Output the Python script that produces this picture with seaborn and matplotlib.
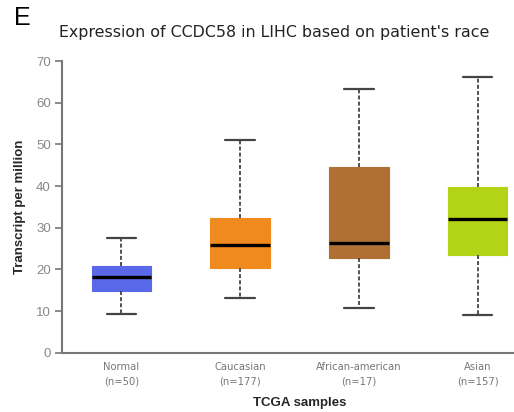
import numpy as np
import pandas as pd
import matplotlib
matplotlib.use("Agg")
import matplotlib.pyplot as plt
import seaborn as sns

# Five-number summaries: [min, Q1, median, Q3, max]
categories = ["Normal", "Caucasian", "African-american", "Asian"]
counts = [50, 177, 17, 157]
normal_vals = [9.3, 14.9, 18.1, 20.9, 27.6]
caucasian_vals = [13.2, 20.4, 25.9, 32.4, 51.0]
african_vals = [10.7, 22.7, 26.4, 44.6, 63.3]
asian_vals = [9.1, 23.4, 32.1, 39.8, 66.2]
colors = ["#5868E6", "#F08A1E", "#AF6F35", "#B3D416"]
yticks = [0, 10, 20, 30, 40, 50, 60, 70]

tick_labels = [f"{c}\n(n={n})" for c, n in zip(categories, counts)]

df = pd.DataFrame({
    "group": np.repeat(tick_labels, 5),
    "tpm": normal_vals + caucasian_vals + african_vals + asian_vals,
})

sns.set_style("white")
fig = plt.figure(figsize=(5.14, 4.12), dpi=100)
# axes extends past the right edge of the figure (the reference is cropped)
ax = fig.add_axes([62 / 514, 59.3 / 412, (537 - 62) / 514, 291.7 / 412])

sns.boxplot(
    data=df, x="group", y="tpm", hue="group", order=tick_labels,
    palette=colors, saturation=1, width=0.5, whis=np.inf, legend=False,
    linewidth=1.3, ax=ax,
    whiskerprops=dict(color="#444444", linestyle=(0, (2.2, 1.2)), linewidth=1.3),
    capprops=dict(color="#444444", linewidth=1.6),
    medianprops=dict(color="black", linewidth=2.4),
)

for patch, col in zip(ax.patches, colors):
    patch.set_edgecolor(col)
    patch.set_linewidth(0.8)

ax.set_xlim(-0.5, 3.5)
ax.set_ylim(0, 70)
ax.set_yticks(yticks)
ax.tick_params(axis="y", direction="out", length=5, width=1.2, color="#777777",
               labelcolor="#888888", labelsize=9.5, pad=3, left=True)
ax.tick_params(axis="x", length=0, labelcolor="#777777", labelsize=7.2, pad=7)
for lab in ax.get_yticklabels():
    lab.set_fontfamily("Liberation Sans")
for lab in ax.get_xticklabels():
    lab.set_fontfamily("DejaVu Sans")
    lab.set_linespacing(1.45)

for s in ["top", "right"]:
    ax.spines[s].set_visible(False)
for s in ["left", "bottom"]:
    ax.spines[s].set_color("#777777")
    ax.spines[s].set_linewidth(1.5)

ax.set_ylabel("Transcript per million", fontsize=9.5, fontweight="bold",
              family="Liberation Sans", labelpad=7)
ax.set_xlabel("TCGA samples", fontsize=9.5, fontweight="bold",
              family="Liberation Sans", labelpad=8)

fig.text(274.5 / 514, 1 - 33 / 412, "Expression of CCDC58 in LIHC based on patient's race",
         ha="center", va="center", fontsize=11.4, family="DejaVu Sans", color="#222222")
fig.text(14 / 514, 1 - 18 / 412, "E", ha="left", va="center", fontsize=18,
         family="Liberation Sans", color="black")

fig.savefig("out.png", dpi=100)
